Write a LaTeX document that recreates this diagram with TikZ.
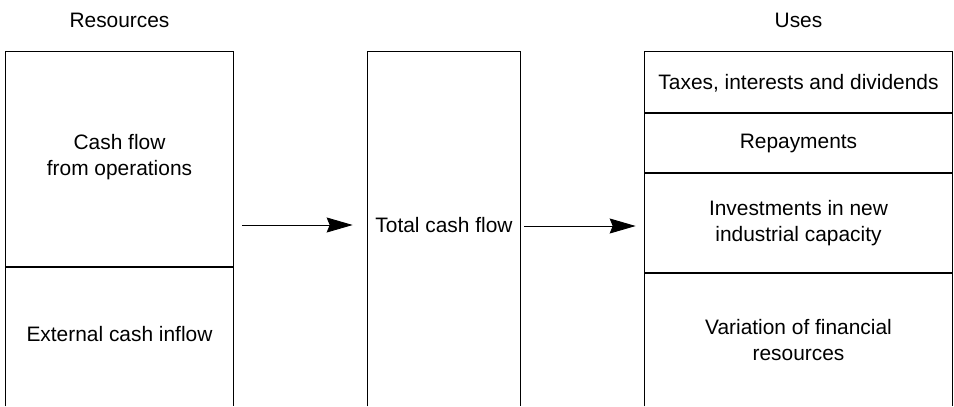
\documentclass[tikz,border=0pt]{standalone}
\usepackage{fontspec}
\setmainfont{Liberation Sans}
\usetikzlibrary{arrows.meta}

\tikzset{
  column/.style={inner sep=0pt, minimum height=7.08cm, minimum width=#1},
  frame/.style={line width=0.9pt},
  label/.style={align=center, font=\fontsize{11.9}{14.8}\selectfont},
  flow/.style={line width=0.5pt, -{Stealth[length=0.52cm, width=0.3cm, inset=0.06cm]}}
}

\begin{document}
\begin{tikzpicture}[x=0.02cm, y=-0.02cm]
  \useasboundingbox (0,0) rectangle (954,406);
  % the three columns, open at the bottom
  \node[column=4.54cm] (res) at (119.5,229) {};
  \node[column=3.04cm] (tot) at (444,229) {};
  \node[column=6.14cm] (use) at (798.5,229) {};
  \draw[frame] (res.south west) |- (res.north east) -- (res.south east);
  \draw[frame] (tot.south west) |- (tot.north east) -- (tot.south east);
  \draw[frame] (use.south west) |- (use.north east) -- (use.south east);
  \draw[frame] (6,267) -- (233,267);
  \draw[frame] (645,113) -- (952,113);
  \draw[frame] (645,173) -- (952,173);
  \draw[frame] (645,273) -- (952,273);
  % headings
  \node[label] (reshead) at (119.5,20) {Resources};
  \node[label] (usehead) at (798.5,20) {Uses};
  % texts
  \node[label] (ops) at (119.5,157) {Cash flow\\from operations};
  \node[label] (ext) at (119.5,334) {External cash inflow};
  \node[label] (total) at (444,225) {Total cash flow};
  \node[label] (taxes) at (798.5,83) {Taxes, interests and dividends};
  \node[label] (repay) at (798.5,143) {Repayments};
  \node[label] (invest) at (798.5,223) {Investments in new\\industrial capacity};
  \node[label] (vari) at (798.5,340) {Variation of financial\\resources};
  % arrows
  \draw[flow] ([xshift=0.18cm, yshift=0.08cm]res.east) -- ([xshift=-0.3cm, yshift=0.08cm]tot.west);
  \draw[flow] ([xshift=0.08cm, yshift=0.06cm]tot.east) -- ([xshift=-0.18cm, yshift=0.06cm]use.west);
\end{tikzpicture}
\end{document}
